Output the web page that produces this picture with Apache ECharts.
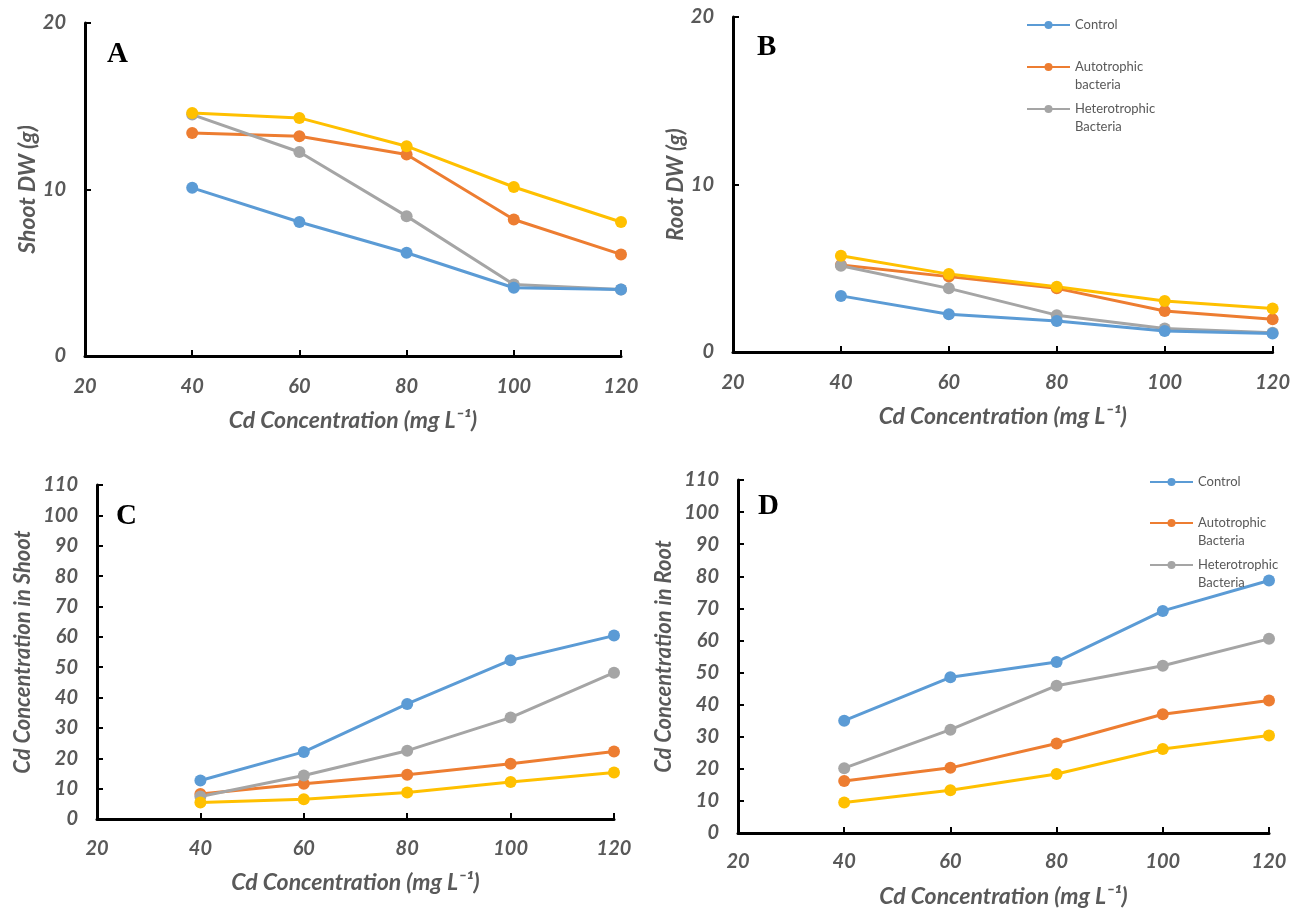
<!DOCTYPE html>
<html>
<head>
<meta charset="utf-8">
<script src="https://cdn.jsdelivr.net/npm/echarts@6/dist/echarts.min.js"></script>
<style>html,body{margin:0;padding:0;background:#fff}#c{width:1293px;height:909px}</style>
</head>
<body>
<div id="c"></div>
<script>
const xValues = [40, 60, 80, 100, 120];

// Panel A: Shoot DW (g)
const shootDW_control = [10.1, 8.05, 6.2, 4.1, 4.0];
const shootDW_auto    = [13.4, 13.2, 12.1, 8.2, 6.1];
const shootDW_hetero  = [14.5, 12.25, 8.4, 4.3, 4.0];
const shootDW_yellow  = [14.6, 14.3, 12.6, 10.15, 8.05];

// Panel B: Root DW (g)
const rootDW_control = [3.35, 2.25, 1.85, 1.25, 1.1];
const rootDW_auto    = [5.2, 4.5, 3.8, 2.45, 1.95];
const rootDW_hetero  = [5.15, 3.8, 2.2, 1.4, 1.15];
const rootDW_yellow  = [5.75, 4.65, 3.9, 3.05, 2.6];

// Panel C: Cd Concentration in Shoot
const cdShoot_control = [12.7, 22.1, 37.9, 52.3, 60.4];
const cdShoot_auto    = [8.2, 11.6, 14.6, 18.2, 22.2];
const cdShoot_hetero  = [7.4, 14.3, 22.5, 33.4, 48.2];
const cdShoot_yellow  = [5.4, 6.5, 8.7, 12.2, 15.3];

// Panel D: Cd Concentration in Root
const cdRoot_control = [35.0, 48.5, 53.3, 69.2, 78.7];
const cdRoot_auto    = [16.2, 20.3, 27.9, 37.0, 41.3];
const cdRoot_hetero  = [20.2, 32.2, 45.9, 52.1, 60.5];
const cdRoot_yellow  = [9.5, 13.3, 18.4, 26.2, 30.4];

const xTickLabels = ['20', '40', '60', '80', '100', '120'];
const yTitles = ['Shoot DW (g)', 'Root DW (g)', 'Cd Concentration in Shoot', 'Cd Concentration in Root'];
const xTitle = 'Cd Concentration (mg L\u207B\u00B9)';
const panelLetters = ['A', 'B', 'C', 'D'];

const namesB = ['Control', 'Autotrophic\nbacteria', 'Heterotrophic\nBacteria', 'Series4'];
const namesD = ['Control', 'Autotrophic\nBacteria', 'Heterotrophic\nBacteria', 'Series4 '];

const colors = ['#5B9BD5', '#ED7D31', '#A5A5A5', '#FFC000'];
const labelColor = '#595959';
const FONT = 'Lato, "Open Sans", sans-serif';

const panels = [
  {data: [shootDW_control, shootDW_auto, shootDW_hetero, shootDW_yellow], names: namesB, yMax: 20, yInt: 10,
   grid: {left: 85, top: 23, width: 536, height: 333}, yGap: 44, yFont: 23, xGap: 53, xMargin: 21},
  {data: [rootDW_control, rootDW_auto, rootDW_hetero, rootDW_yellow], names: namesB, yMax: 20, yInt: 10,
   grid: {left: 733, top: 17, width: 540, height: 335}, yGap: 42, yFont: 22, xGap: 53, xMargin: 21},
  {data: [cdShoot_control, cdShoot_auto, cdShoot_hetero, cdShoot_yellow], names: namesD, yMax: 110, yInt: 10,
   grid: {left: 97, top: 485, width: 517, height: 334}, yGap: 63, yFont: 22, xGap: 52, xMargin: 20},
  {data: [cdRoot_control, cdRoot_auto, cdRoot_hetero, cdRoot_yellow], names: namesD, yMax: 110, yInt: 10,
   grid: {left: 738, top: 480, width: 531, height: 355}, yGap: 63, yFont: 22, xGap: 52, xMargin: 19}
];

const grids = [], xAxes = [], yAxes = [], series = [];
const tickLabelStyle = {color: labelColor, fontFamily: FONT, fontStyle: 'italic', fontWeight: 'bold', fontSize: 20};
panels.forEach((p, i) => {
  grids.push(Object.assign({containLabel: false}, p.grid));
  xAxes.push({
    type: 'value', gridIndex: i, min: 20, max: 120, interval: 20,
    name: xTitle, nameLocation: 'middle', nameGap: p.xGap,
    nameTextStyle: {color: labelColor, fontFamily: FONT, fontStyle: 'italic', fontWeight: 'bold', fontSize: 23},
    axisLine: {show: true, lineStyle: {color: '#000', width: 3}},
    axisTick: {show: true, inside: true, length: 6, lineStyle: {color: '#000', width: 2}},
    axisLabel: Object.assign({margin: p.xMargin, formatter: v => xTickLabels[(v - 20) / 20]}, tickLabelStyle),
    splitLine: {show: false}
  });
  yAxes.push({
    type: 'value', gridIndex: i, min: 0, max: p.yMax, interval: p.yInt,
    name: yTitles[i], nameLocation: 'middle', nameGap: p.yGap, nameRotate: 90,
    nameTextStyle: {color: labelColor, fontFamily: FONT, fontStyle: 'italic', fontWeight: 'bold', fontSize: p.yFont},
    axisLine: {show: true, lineStyle: {color: '#000', width: 3}},
    axisTick: {show: true, inside: true, length: 6, lineStyle: {color: '#000', width: 2}},
    axisLabel: Object.assign({margin: 19}, tickLabelStyle),
    splitLine: {show: false}
  });
  p.data.forEach((vals, k) => {
    series.push({
      type: 'line', name: p.names[k], xAxisIndex: i, yAxisIndex: i,
      data: xValues.map((x, j) => [x, vals[j]]),
      symbol: 'circle', symbolSize: 12,
      lineStyle: {color: colors[k], width: 3},
      itemStyle: {color: colors[k]},
      z: 2 + (k === 0 ? 1 : 0)
    });
  });
});

const legendText = {color: labelColor, fontFamily: FONT, fontSize: 13, lineHeight: 18};
function legendItem(name, left, top, twoLine) {
  return {
    data: [name], left: left, top: top, padding: 0,
    itemWidth: 43, itemHeight: 10, itemGap: 0, selectedMode: false,
    formatter: twoLine ? (n => '\n' + n) : (n => n),
    textStyle: Object.assign({}, legendText)
  };
}
const legends = [
  legendItem('Control', 1026, 16, false),
  legendItem('Autotrophic\nbacteria', 1026, 40, true),
  legendItem('Heterotrophic\nBacteria', 1026, 82, true),
  legendItem('Control', 1149, 473, false),
  legendItem('Autotrophic\nBacteria', 1149, 496, true),
  legendItem('Heterotrophic\nBacteria', 1149, 538, true)
];

const letterPos = [[107, 40], [757, 33], [116, 502], [758, 492]];
const titles = panelLetters.map((t, i) => ({
  text: t, left: letterPos[i][0], top: letterPos[i][1], padding: 0,
  textStyle: {fontFamily: '"Liberation Serif", "Times New Roman", serif', fontWeight: 'bold', fontSize: 29, color: '#000'}
}));

const chart = echarts.init(document.getElementById('c'), null, {renderer: 'canvas'});
chart.setOption({
  animation: false,
  backgroundColor: '#fff',
  title: titles,
  legend: legends,
  grid: grids,
  xAxis: xAxes,
  yAxis: yAxes,
  series: series
});
</script>
</body>
</html>
